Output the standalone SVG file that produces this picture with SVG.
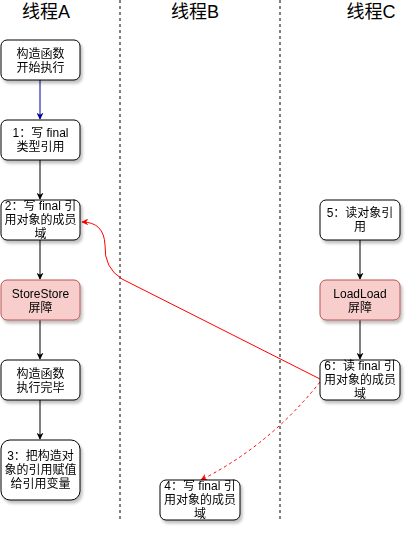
<svg xmlns="http://www.w3.org/2000/svg" width="412" height="533" viewBox="0 0 412 533">
<style>
text{font-family:"Liberation Sans","Noto Sans CJK SC",sans-serif;font-size:12px;fill:#000;text-anchor:middle;dominant-baseline:central}
.title{font-size:18px}
.box{fill:#fff;stroke:#000;stroke-width:1}
.red{fill:#f8cecc;stroke:#b85450;stroke-width:1}
.lane{stroke:#000;stroke-width:1;stroke-dasharray:3 3;fill:none}
.e{fill:none;stroke:#000;stroke-width:1}
</style>
<defs>
<filter id="sh" x="-20%" y="-20%" width="150%" height="160%">
<feGaussianBlur in="SourceAlpha" stdDeviation="1.5"/>
<feOffset dx="2" dy="3" result="b"/>
<feComponentTransfer><feFuncA type="linear" slope="0.25"/></feComponentTransfer>
<feMerge><feMergeNode/><feMergeNode in="SourceGraphic"/></feMerge>
</filter>
<marker id="ak" viewBox="0 0 10 10" refX="9" refY="5" markerWidth="7" markerHeight="7" orient="auto" markerUnits="userSpaceOnUse"><path d="M0,0 L10,5 L0,10 L3,5 Z" fill="#000"/></marker>
<marker id="ab" viewBox="0 0 10 10" refX="9" refY="5" markerWidth="7" markerHeight="7" orient="auto" markerUnits="userSpaceOnUse"><path d="M0,0 L10,5 L0,10 L3,5 Z" fill="#000099"/></marker>
<marker id="ar" viewBox="0 0 10 10" refX="9" refY="5" markerWidth="7" markerHeight="7" orient="auto" markerUnits="userSpaceOnUse"><path d="M0,0 L10,5 L0,10 L3,5 Z" fill="#ff0000"/></marker>
</defs>
<g id="lanes">
<text class="title" x="46" y="12">线程A</text>
<text class="title" x="195" y="12">线程B</text>
<text class="title" x="371" y="12">线程C</text>
<line class="lane" x1="120" y1="0" x2="120" y2="520"/>
<line class="lane" x1="280" y1="0" x2="280" y2="520"/>
</g>
<g id="connectors">
<line x1="40" y1="80" x2="40" y2="119" stroke="#000099" stroke-width="1" marker-end="url(#ab)"/>
<line class="e" x1="40" y1="160" x2="40" y2="199" marker-end="url(#ak)"/>
<line class="e" x1="40" y1="240" x2="40" y2="279" marker-end="url(#ak)"/>
<line class="e" x1="40" y1="320" x2="40" y2="359" marker-end="url(#ak)"/>
<line class="e" x1="40" y1="400" x2="40" y2="439" marker-end="url(#ak)"/>
<line class="e" x1="360" y1="240" x2="360" y2="279" marker-end="url(#ak)"/>
<line class="e" x1="360" y1="320" x2="360" y2="359" marker-end="url(#ak)"/>
<path d="M320,379 L122,279 Q104,268 105,245 Q104,222 82,222" fill="none" stroke="#ff0000" stroke-width="1" marker-end="url(#ar)"/>
<path d="M320,382 Q270,445 201,480" fill="none" stroke="#ff0000" stroke-width="1" stroke-dasharray="3 3" marker-end="url(#ar)"/>
</g>
<g id="n0" filter="url(#sh)"><rect class="box" x="1" y="40" width="79" height="40" rx="6"/><text x="40.5" y="54">构造函数</text><text x="40.5" y="68">开始执行</text></g>
<g id="n1" filter="url(#sh)"><rect class="box" x="1" y="120" width="79" height="40" rx="6"/><text x="40.5" y="133">1：写 final</text><text x="40.5" y="147">类型引用</text></g>
<g id="n2" filter="url(#sh)"><rect class="box" x="1" y="200" width="79" height="40" rx="6"/><text x="40.5" y="206">2：写 final 引</text><text x="40.5" y="220">用对象的成员</text><text x="40.5" y="234">域</text></g>
<g id="n3" filter="url(#sh)"><rect class="red" x="1" y="280" width="79" height="40" rx="6"/><text x="40.5" y="294">StoreStore</text><text x="40.5" y="308">屏障</text></g>
<g id="n4" filter="url(#sh)"><rect class="box" x="1" y="360" width="79" height="40" rx="6"/><text x="40.5" y="374">构造函数</text><text x="40.5" y="388">执行完毕</text></g>
<g id="n5" filter="url(#sh)"><rect class="box" x="1" y="440" width="79" height="60" rx="9"/><text x="40.5" y="456">3：把构造对</text><text x="40.5" y="470">象的引用赋值</text><text x="40.5" y="484">给引用变量</text></g>
<g id="n6" filter="url(#sh)"><rect class="box" x="160" y="480" width="80" height="40" rx="6"/><text x="200" y="486">4：写 final 引</text><text x="200" y="500">用对象的成员</text><text x="200" y="514">域</text></g>
<g id="n7" filter="url(#sh)"><rect class="box" x="320" y="200" width="80" height="40" rx="6"/><text x="360" y="213">5：读对象引</text><text x="360" y="227">用</text></g>
<g id="n8" filter="url(#sh)"><rect class="red" x="320" y="280" width="80" height="40" rx="6"/><text x="360" y="294">LoadLoad</text><text x="360" y="308">屏障</text></g>
<g id="n9" filter="url(#sh)"><rect class="box" x="320" y="360" width="80" height="40" rx="6"/><text x="360" y="366">6：读 final 引</text><text x="360" y="380">用对象的成员</text><text x="360" y="394">域</text></g>
</svg>
